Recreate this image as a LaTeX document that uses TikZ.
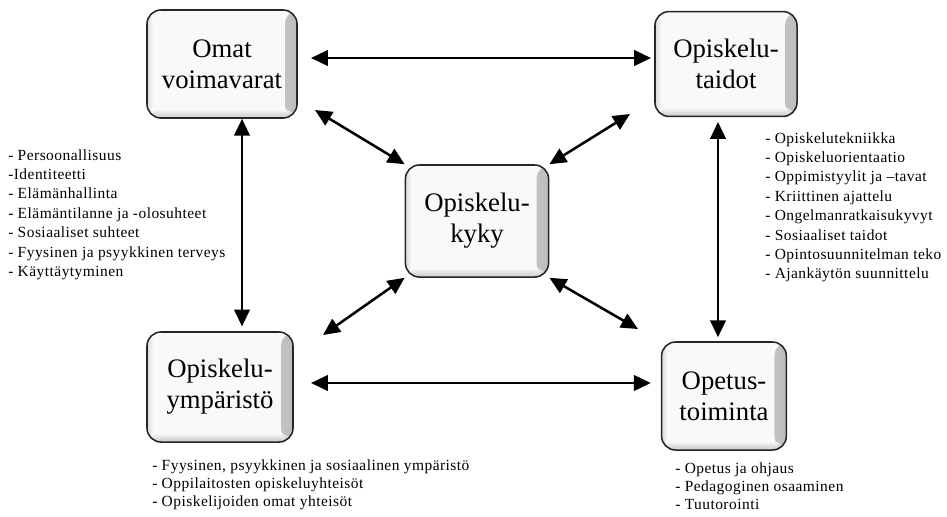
\documentclass[tikz,border=0pt]{standalone}
\usepackage{fontspec}
\setmainfont{Liberation Serif}
\newfontfamily\listfont[LetterSpace=3]{Liberation Serif}
\usepackage{xcolor}
\usepackage{tikz}
\usetikzlibrary{calc,arrows.meta}
\definecolor{boxfill}{HTML}{F9F9F9}
\definecolor{boxedge}{HTML}{BDBDBD}
\tikzset{
  box/.style={draw=black!85, line width=1.1pt, rounded corners=0.35cm, fill=boxfill,
    align=center, inner sep=0pt, font=\fontsize{19}{22}\selectfont,
    path picture={
      \shade[left color=boxfill, right color=boxedge]
        ([xshift=-0.3cm]path picture bounding box.north east) rectangle (path picture bounding box.south east);
      \shade[top color=boxfill, bottom color=boxedge, opacity=0.8]
        ([yshift=0.22cm]path picture bounding box.south west) rectangle (path picture bounding box.south east);
      \shade[left color=boxedge, right color=boxfill, opacity=0.5]
        (path picture bounding box.north west) rectangle ([xshift=0.15cm]path picture bounding box.south west);
    }},
  link/.style={line width=1.8pt, {Triangle[length=12pt,width=11pt]}-{Triangle[length=12pt,width=11pt]}},
  lst/.style={anchor=north west, align=left, inner sep=0pt, font=\listfont\fontsize{11}{13.8}\selectfont},
  lsts/.style={lst, font=\listfont\fontsize{11}{13}\selectfont},
}
\begin{document}
\begin{tikzpicture}[x=0.025cm, y=-0.025cm]
  \useasboundingbox (0,0) rectangle (947,516);
  % boxes
  \node[box, minimum width=3.75cm, minimum height=2.7cm]  (voima)  at (222,64)  {Omat\\voimavarat};
  \node[box, minimum width=3.55cm, minimum height=2.62cm] (taidot) at (726,64)  {Opiskelu-\\taidot};
  \node[box, minimum width=3.58cm, minimum height=2.8cm]  (kyky)   at (477,221) {Opiskelu-\\kyky};
  \node[box, minimum width=3.65cm, minimum height=2.75cm] (ymp)    at (220,387) {Opiskelu-\\ympäristö};
  \node[box, minimum width=3.12cm, minimum height=2.7cm]  (opetus) at (724,396) {Opetus-\\toiminta};
  % free ends of the diagonals
  \coordinate (tl) at (315,110);
  \coordinate (tr) at (630,114);
  \coordinate (bl) at (323,335);
  \coordinate (br) at (638,329);
  % arrows
  \draw[link, shorten <=0.33cm, shorten >=0.08cm] ([yshift=0.15cm]voima.east) -- ([yshift=0.15cm]voima.east -| taidot.west);
  \draw[link, shorten <=0.43cm, shorten >=0.25cm] ([yshift=0.1cm]ymp.east) -- ([yshift=0.1cm]ymp.east -| opetus.west);
  \draw[link, shorten >=0.12cm] ([xshift=0.5cm]voima.south) -- ([xshift=0.5cm]voima.south |- ymp.north);
  \draw[link, shorten <=0.12cm, shorten >=0.1cm] ([xshift=-0.2cm]taidot.south) -- ([xshift=-0.2cm]taidot.south |- opetus.north);
  \draw[link] (kyky.north west) -- (tl);
  \draw[link] (kyky.north east) -- (tr);
  \draw[link] (kyky.south west) -- (bl);
  \draw[link] (kyky.south east) -- (br);
  % lists
  \node[lst] (voimalist) at (8,149) {- Persoonallisuus\\-Identiteetti\\- Elämänhallinta\\- Elämäntilanne ja -olosuhteet\\- Sosiaaliset suhteet\\- Fyysinen ja psyykkinen terveys\\- Käyttäytyminen};
  \node[lst] (taitolist) at (765,132) {- Opiskelutekniikka\\- Opiskeluorientaatio\\- Oppimistyylit ja –tavat\\- Kriittinen ajattelu\\- Ongelmanratkaisukyvyt\\- Sosiaaliset taidot\\- Opintosuunnitelman teko\\- Ajankäytön suunnittelu};
  \node[lsts] (ymplist) at (152,459) {- Fyysinen, psyykkinen ja sosiaalinen ympäristö\\- Oppilaitosten opiskeluyhteisöt\\- Opiskelijoiden omat yhteisöt};
  \node[lsts] (opetuslist) at (675,462) {- Opetus ja ohjaus\\- Pedagoginen osaaminen\\- Tuutorointi};
\end{tikzpicture}
\end{document}
